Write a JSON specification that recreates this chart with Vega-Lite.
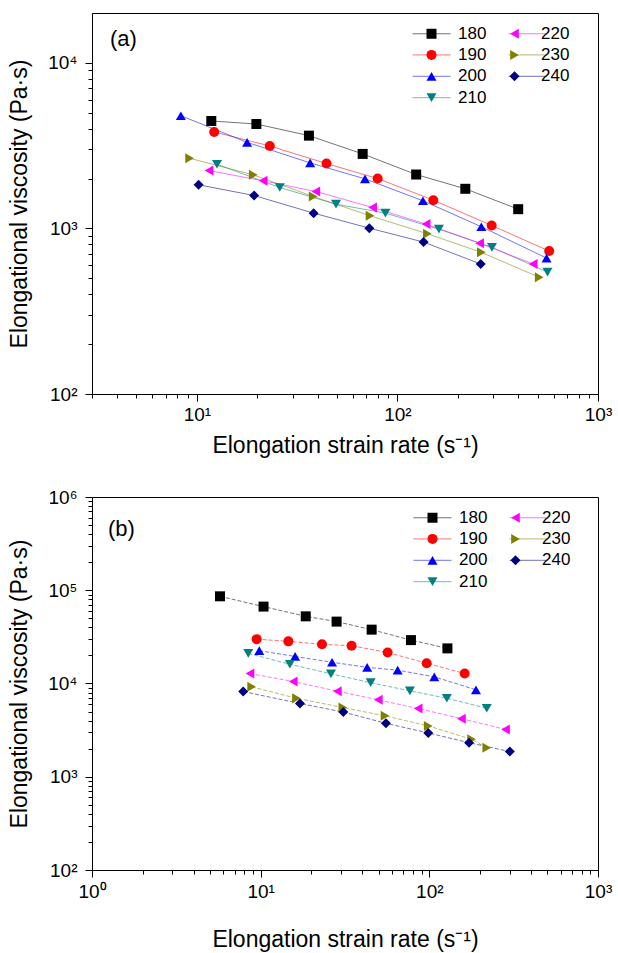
{
  "$schema": "https://vega.github.io/schema/vega-lite/v6.json",
  "background": "white",
  "padding": {"left": 8, "top": 12, "right": 5, "bottom": 0},
  "spacing": 29,
  "config": {
    "font": "Liberation Sans",
    "view": {"stroke": "black", "strokeWidth": 1},
    "axis": {
      "grid": false,
      "domainColor": "black",
      "tickColor": "black",
      "labelColor": "black",
      "titleColor": "black",
      "labelFont": "Liberation Sans",
      "titleFont": "Liberation Sans",
      "labelFontSize": 19,
      "titleFontSize": 23,
      "titleFontWeight": "normal",
      "labelOverlap": false,
      "labelFlush": false,
      "labelBound": false,
      "tickWidth": 1,
      "domainWidth": 1
    },
    "legend": {"labelFont": "Liberation Sans", "labelFontSize": 17, "labelColor": "black", "padding": 0, "columns": 2, "orient": "none", "rowPadding": 3.4, "columnPadding": 19, "labelOffset": 18, "symbolSize": 100}
  },
  "datasets": {
    "a": [
      {"T": "180", "x": 11.8, "y": 4456}, {"T": "180", "x": 19.8, "y": 4272}, {"T": "180", "x": 36.2, "y": 3633}, {"T": "180", "x": 67.1, "y": 2818}, {"T": "180", "x": 124, "y": 2116}, {"T": "180", "x": 218, "y": 1735}, {"T": "180", "x": 400, "y": 1307},
      {"T": "190", "x": 12.2, "y": 3824}, {"T": "190", "x": 23.1, "y": 3148}, {"T": "190", "x": 44.3, "y": 2464}, {"T": "190", "x": 79.7, "y": 2000}, {"T": "190", "x": 151, "y": 1481}, {"T": "190", "x": 295, "y": 1042}, {"T": "190", "x": 571, "y": 730},
      {"T": "200", "x": 8.32, "y": 4794}, {"T": "200", "x": 17.8, "y": 3311}, {"T": "200", "x": 36.7, "y": 2488}, {"T": "200", "x": 68.9, "y": 1993}, {"T": "200", "x": 134, "y": 1469}, {"T": "200", "x": 262, "y": 1024}, {"T": "200", "x": 554, "y": 662},
      {"T": "210", "x": 12.6, "y": 2440}, {"T": "210", "x": 25.9, "y": 1766}, {"T": "210", "x": 49.4, "y": 1401}, {"T": "210", "x": 87.1, "y": 1237}, {"T": "210", "x": 161, "y": 990}, {"T": "210", "x": 296, "y": 768}, {"T": "210", "x": 560, "y": 545},
      {"T": "220", "x": 11.5, "y": 2236}, {"T": "220", "x": 21.4, "y": 1938}, {"T": "220", "x": 39.2, "y": 1671}, {"T": "220", "x": 75.2, "y": 1338}, {"T": "220", "x": 139, "y": 1062}, {"T": "220", "x": 257, "y": 815}, {"T": "220", "x": 475, "y": 610},
      {"T": "230", "x": 9.2, "y": 2652}, {"T": "230", "x": 19.1, "y": 2106}, {"T": "230", "x": 38.0, "y": 1559}, {"T": "230", "x": 73.0, "y": 1192}, {"T": "230", "x": 141, "y": 929}, {"T": "230", "x": 262, "y": 717}, {"T": "230", "x": 509, "y": 507},
      {"T": "240", "x": 10.2, "y": 1834}, {"T": "240", "x": 19.3, "y": 1580}, {"T": "240", "x": 38.2, "y": 1237}, {"T": "240", "x": 72.4, "y": 1004}, {"T": "240", "x": 135, "y": 827}, {"T": "240", "x": 260, "y": 610}
    ],
    "b": [
      {"T": "180", "x": 5.74, "y": 86100}, {"T": "180", "x": 10.4, "y": 66800}, {"T": "180", "x": 18.5, "y": 52500}, {"T": "180", "x": 28.2, "y": 46100}, {"T": "180", "x": 45.5, "y": 37800}, {"T": "180", "x": 77.8, "y": 29200}, {"T": "180", "x": 128, "y": 23800},
      {"T": "190", "x": 9.47, "y": 29900}, {"T": "190", "x": 14.6, "y": 28300}, {"T": "190", "x": 23.1, "y": 26300}, {"T": "190", "x": 34.6, "y": 25400}, {"T": "190", "x": 56.6, "y": 21500}, {"T": "190", "x": 96.4, "y": 16500}, {"T": "190", "x": 162, "y": 12800},
      {"T": "200", "x": 9.81, "y": 22500}, {"T": "200", "x": 16.0, "y": 19500}, {"T": "200", "x": 26.5, "y": 16900}, {"T": "200", "x": 42.8, "y": 14900}, {"T": "200", "x": 64.9, "y": 13900}, {"T": "200", "x": 107, "y": 11800}, {"T": "200", "x": 189, "y": 8560},
      {"T": "210", "x": 8.44, "y": 21000}, {"T": "210", "x": 14.9, "y": 16100}, {"T": "210", "x": 26.1, "y": 12700}, {"T": "210", "x": 44.9, "y": 10200}, {"T": "210", "x": 76.7, "y": 8340}, {"T": "210", "x": 127, "y": 6950}, {"T": "210", "x": 219, "y": 5430},
      {"T": "220", "x": 8.64, "y": 12800}, {"T": "220", "x": 15.6, "y": 10500}, {"T": "220", "x": 28.5, "y": 8270}, {"T": "220", "x": 49.8, "y": 6680}, {"T": "220", "x": 85.9, "y": 5390}, {"T": "220", "x": 155, "y": 4200}, {"T": "220", "x": 283, "y": 3220},
      {"T": "230", "x": 8.84, "y": 9210}, {"T": "230", "x": 16.3, "y": 6950}, {"T": "230", "x": 30.7, "y": 5520}, {"T": "230", "x": 54.6, "y": 4500}, {"T": "230", "x": 98.5, "y": 3510}, {"T": "230", "x": 178, "y": 2520}, {"T": "230", "x": 219, "y": 2050},
      {"T": "240", "x": 7.88, "y": 8200}, {"T": "240", "x": 17.1, "y": 6100}, {"T": "240", "x": 30.9, "y": 4940}, {"T": "240", "x": 55.3, "y": 3740}, {"T": "240", "x": 98.5, "y": 2950}, {"T": "240", "x": 172, "y": 2320}, {"T": "240", "x": 300, "y": 1860}
    ]
  },
  "resolve": {"legend": {"fill": "independent", "shape": "independent", "stroke": "independent"}},
  "vconcat": [
    {
      "width": 506,
      "height": 381,
      "title": {"text": "(a)", "anchor": "start", "frame": "group", "orient": "top", "baseline": "top", "offset": -38, "dx": 18, "fontSize": 22, "fontWeight": "normal", "font": "Liberation Sans", "color": "black"},
      "data": {"name": "a"},
      "encoding": {
        "x": {
          "field": "x", "type": "quantitative",
          "scale": {"type": "log", "domain": [3, 1000], "nice": false},
          "title": "Elongation strain rate (s⁻¹)",
          "axis": {
            "values": [3, 4, 5, 6, 7, 8, 9, 10, 20, 30, 40, 50, 60, 70, 80, 90, 100, 200, 300, 400, 500, 600, 700, 800, 900, 1000],
            "labelExpr": "abs(log(datum.value)/LN10-round(log(datum.value)/LN10))<0.001 ? '10'+['⁰','¹','²','³','⁴','⁵','⁶'][round(log(datum.value)/LN10)] : ''",
            "tickSize": {"condition": {"test": "abs(log(datum.value)/LN10-round(log(datum.value)/LN10))<0.001", "value": 7}, "value": 4},
            "labelPadding": 4,
            "titlePadding": 10
          }
        },
        "y": {
          "field": "y", "type": "quantitative",
          "scale": {"type": "log", "domain": [100, 20000], "nice": false},
          "title": "Elongational viscosity (Pa·s)",
          "axis": {
            "values": [100, 200, 300, 400, 500, 600, 700, 800, 900, 1000, 2000, 3000, 4000, 5000, 6000, 7000, 8000, 9000, 10000],
            "labelExpr": "abs(log(datum.value)/LN10-round(log(datum.value)/LN10))<0.001 ? '10'+['⁰','¹','²','³','⁴','⁵','⁶'][round(log(datum.value)/LN10)] : ''",
            "tickSize": {"condition": {"test": "abs(log(datum.value)/LN10-round(log(datum.value)/LN10))<0.001", "value": 7}, "value": 4},
            "labelPadding": 8,
            "titlePadding": 16
          }
        }
      },
      "layer": [
        {
          "mark": {"type": "line", "strokeWidth": 1, "opacity": 0.55},
          "encoding": {
            "stroke": {
              "field": "T", "type": "nominal",
              "scale": {"range": ["#000000", "#ff0000", "#0000ff", "#008080", "#ff00ff", "#808000", "#000080"]},
              "legend": {"title": null, "legendX": 331, "legendY": 12, "labelOpacity": 0, "symbolType": "M-3.8,0H3.8", "symbolStrokeWidth": 1}
            }
          }
        },
        {
          "mark": {"type": "point", "filled": true, "opacity": 1, "size": 100},
          "encoding": {
            "fill": {
              "field": "T", "type": "nominal",
              "scale": {"domain": ["180", "190", "200", "210", "220", "230", "240"], "range": ["#000000", "#ff0000", "#0000ff", "#008080", "#ff00ff", "#808000", "#000080"]},
              "legend": {"title": null, "legendX": 331, "legendY": 12, "symbolOpacity": 1, "symbolStrokeWidth": 0}
            },
            "shape": {
              "field": "T", "type": "nominal",
              "scale": {"domain": ["180", "190", "200", "210", "220", "230", "240"], "range": ["square", "circle", "triangle-up", "triangle-down", "triangle-left", "triangle-right", "diamond"]},
              "legend": {"title": null, "legendX": 331, "legendY": 12, "symbolOpacity": 1, "symbolStrokeWidth": 0}
            }
          }
        }
      ]
    },
    {
      "width": 506,
      "height": 373,
      "title": {"text": "(b)", "anchor": "start", "frame": "group", "orient": "top", "baseline": "top", "offset": -53, "dx": 16, "fontSize": 22, "fontWeight": "normal", "font": "Liberation Sans", "color": "black"},
      "data": {"name": "b"},
      "encoding": {
        "x": {
          "field": "x", "type": "quantitative",
          "scale": {"type": "log", "domain": [1, 1000], "nice": false},
          "title": "Elongation strain rate (s⁻¹)",
          "axis": {
            "values": [1, 2, 3, 4, 5, 6, 7, 8, 9, 10, 20, 30, 40, 50, 60, 70, 80, 90, 100, 200, 300, 400, 500, 600, 700, 800, 900, 1000],
            "labelExpr": "abs(log(datum.value)/LN10-round(log(datum.value)/LN10))<0.001 ? '10'+['⁰','¹','²','³','⁴','⁵','⁶'][round(log(datum.value)/LN10)] : ''",
            "tickSize": {"condition": {"test": "abs(log(datum.value)/LN10-round(log(datum.value)/LN10))<0.001", "value": 7}, "value": 4},
            "labelPadding": 5,
            "titlePadding": 27
          }
        },
        "y": {
          "field": "y", "type": "quantitative",
          "scale": {"type": "log", "domain": [100, 1000000], "nice": false},
          "title": "Elongational viscosity (Pa·s)",
          "axis": {
            "values": [100, 200, 300, 400, 500, 600, 700, 800, 900, 1000, 2000, 3000, 4000, 5000, 6000, 7000, 8000, 9000, 10000, 20000, 30000, 40000, 50000, 60000, 70000, 80000, 90000, 100000, 200000, 300000, 400000, 500000, 600000, 700000, 800000, 900000, 1000000],
            "labelExpr": "abs(log(datum.value)/LN10-round(log(datum.value)/LN10))<0.001 ? '10'+['⁰','¹','²','³','⁴','⁵','⁶'][round(log(datum.value)/LN10)] : ''",
            "tickSize": {"condition": {"test": "abs(log(datum.value)/LN10-round(log(datum.value)/LN10))<0.001", "value": 7}, "value": 4},
            "labelPadding": 8,
            "titlePadding": 16
          }
        }
      },
      "layer": [
        {
          "mark": {"type": "line", "strokeWidth": 1, "opacity": 0.55, "strokeDash": [4, 2]},
          "encoding": {
            "stroke": {
              "field": "T", "type": "nominal",
              "scale": {"range": ["#000000", "#ff0000", "#0000ff", "#008080", "#ff00ff", "#808000", "#000080"]},
              "legend": {"title": null, "legendX": 332, "legendY": 12, "labelOpacity": 0, "symbolType": "M-3.8,0H3.8", "symbolStrokeWidth": 1}
            }
          }
        },
        {
          "mark": {"type": "point", "filled": true, "opacity": 1, "size": 100},
          "encoding": {
            "fill": {
              "field": "T", "type": "nominal",
              "scale": {"domain": ["180", "190", "200", "210", "220", "230", "240"], "range": ["#000000", "#ff0000", "#0000ff", "#008080", "#ff00ff", "#808000", "#000080"]},
              "legend": {"title": null, "legendX": 332, "legendY": 12, "symbolOpacity": 1, "symbolStrokeWidth": 0}
            },
            "shape": {
              "field": "T", "type": "nominal",
              "scale": {"domain": ["180", "190", "200", "210", "220", "230", "240"], "range": ["square", "circle", "triangle-up", "triangle-down", "triangle-left", "triangle-right", "diamond"]},
              "legend": {"title": null, "legendX": 332, "legendY": 12, "symbolOpacity": 1, "symbolStrokeWidth": 0}
            }
          }
        }
      ]
    }
  ]
}
